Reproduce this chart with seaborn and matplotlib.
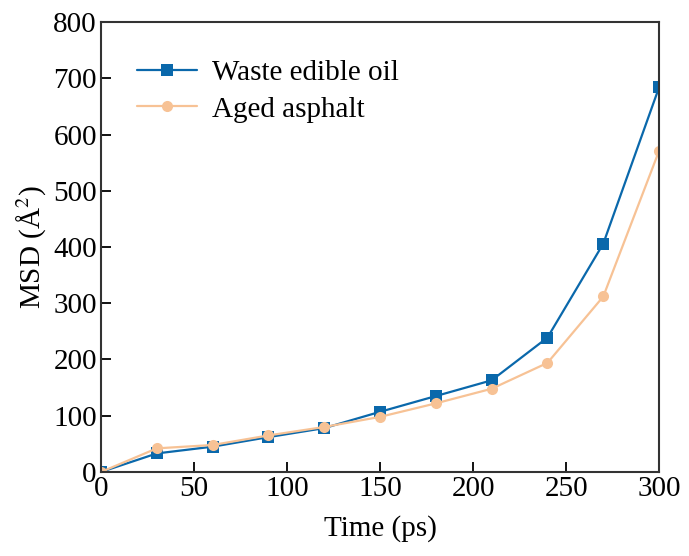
import numpy as np
import pandas as pd
import matplotlib
matplotlib.use("Agg")
import matplotlib.pyplot as plt
import seaborn as sns

time_ps = [0, 30, 60, 90, 120, 150, 180, 210, 240, 270, 300]
waste_oil = [0, 33, 45, 62, 78, 107, 135, 163, 239, 406, 684]
aged_asphalt = [0, 42, 48, 65, 80, 98, 122, 148, 194, 312, 571]

df = pd.DataFrame({"Time": time_ps * 2,
                   "MSD": waste_oil + aged_asphalt,
                   "Series": ["Waste edible oil"] * len(time_ps) + ["Aged asphalt"] * len(time_ps)})

sns.set_style("ticks")
plt.rcParams['font.family'] = ['Liberation Serif', 'DejaVu Serif']
plt.rcParams['mathtext.fontset'] = 'stix'
plt.rcParams['text.color'] = 'black'
plt.rcParams['axes.labelcolor'] = 'black'
plt.rcParams['xtick.color'] = 'black'
plt.rcParams['ytick.color'] = 'black'

fig = plt.figure(figsize=(6.89, 5.56), dpi=100)
ax = fig.add_axes([0.1466, 0.1511, 0.81, 0.8093])

palette = {"Waste edible oil": "#0a68ab", "Aged asphalt": "#f7c295"}
sns.lineplot(data=df, x="Time", y="MSD", hue="Series", style="Series",
             markers={"Waste edible oil": "s", "Aged asphalt": "o"},
             dashes=False, palette=palette, markersize=8, linewidth=1.6,
             markeredgewidth=0, ax=ax)

ax.set_xlim(0, 300)
ax.set_ylim(0, 800)
ax.set_xticks(range(0, 301, 50))
ax.set_yticks(range(0, 801, 100))
ax.tick_params(direction="in", labelsize=21, length=7, width=1.3, top=False, right=False, pad=3)
for s in ax.spines.values():
    s.set_linewidth(1.5)
    s.set_color("#333333")
ax.set_xlabel("Time (ps)", fontsize=21, labelpad=9)
ax.set_ylabel("MSD (Å$^2$)", fontsize=21, labelpad=4)

leg = ax.legend(loc="upper left", bbox_to_anchor=(0.018, 0.975), frameon=False,
                fontsize=21, handlelength=2.05, handletextpad=0.5, labelspacing=0.35)
leg.set_title(None)

fig.savefig("out.png", dpi=100)
